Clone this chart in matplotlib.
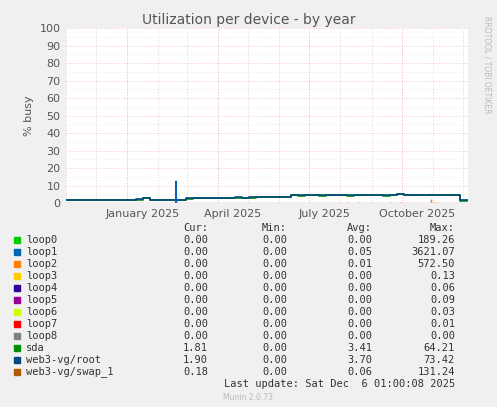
import matplotlib
matplotlib.use("Agg")
import matplotlib.pyplot as plt
import numpy as np

names = ["loop0","loop1","loop2","loop3","loop4","loop5","loop6","loop7","loop8","sda","web3-vg/root","web3-vg/swap_1"]
colors = ["#00cc00","#0066b3","#ff8000","#ffcc00","#330099","#990099","#ccff00","#ff0000","#808080","#008f00","#00487d","#b35a00"]
cur = ["0.00","0.00","0.00","0.00","0.00","0.00","0.00","0.00","0.00","1.81","1.90","0.18"]
mins = ["0.00"]*12
avg = ["0.00","0.05","0.01","0.00","0.00","0.00","0.00","0.00","0.00","3.41","3.70","0.06"]
mx = ["189.26","3621.07","572.50","0.13","0.06","0.09","0.03","0.01","0.00","64.21","73.42","131.24"]

# weekly samples (days since 2024-11-01)
root = [1.8,1.9,1.7,1.8,1.9,1.8,1.9,1.8,2.0,2.0,2.1,3.0,2.0,2.0,1.9,2.0,2.0,2.7,2.8,3.0,2.9,3.1,3.0,2.9,3.2,2.9,3.3,3.4,3.5,3.4,3.6,3.5,4.6,4.4,4.5,4.5,4.4,4.5,4.6,4.5,4.4,4.5,4.6,4.5,4.5,4.4,4.6,5.4,4.7,4.6,4.8,4.7,4.6,4.5,4.6,4.7,1.5,1.9]
sda  = [1.6,1.8,1.5,1.6,1.7,1.6,1.8,1.6,1.8,1.9,2.0,2.8,1.8,1.8,1.7,1.8,1.9,2.5,2.6,2.9,2.8,2.9,2.9,2.7,3.0,2.8,3.1,3.2,3.3,3.2,3.4,3.3,4.4,4.2,4.3,4.3,4.2,4.3,4.4,4.3,4.2,4.3,4.4,4.3,4.3,4.2,4.4,5.1,4.5,4.4,4.6,4.5,4.4,4.3,4.4,4.5,1.3,1.8]
loop1_spike_day = [109, 109.5, 110]
loop1_spike_val = [0, 12.5, 0]
swap_days = [281, 292, 323, 332, 363, 366]
swap_vals = [0.6, 0.5, 0.7, 0.5, 2.2, 0.6]

days = np.arange(len(root)) * 7
W, H = 497, 407
fig = plt.figure(figsize=(W/100, H/100), dpi=100, facecolor="#f0f0f0")
ax = fig.add_axes([66/W, 1-203/H, 402/W, 175/H], facecolor="white")
ax.step(days, sda, where="post", color=colors[9], lw=1.2)
ax.step(days, root, where="post", color=colors[10], lw=1.2)
ax.plot(loop1_spike_day, loop1_spike_val, color=colors[1], lw=1)
ax.vlines(swap_days, 0, swap_vals, color=colors[2], lw=1)
ax.set_xlim(0, 400)
ax.set_ylim(0, 100)
ax.set_yticks(range(0, 101, 10))
for y in range(0, 101, 5):
    ax.axhline(y, color="#f4b6b6" if y % 10 == 0 else "#e8e8e8", lw=0.6, ls=(0, (1, 2)), zorder=0)
month_starts = [0,30,61,92,120,151,181,212,242,273,304,334,365,395]
for d in month_starts:
    ax.axvline(d, color="#e0c8c8", lw=0.6, ls=(0, (1, 2)), zorder=0)
for d in [61,151,242,334]:
    ax.axvline(d, color="#f4b6b6", lw=0.6, ls=(0, (1, 2)), zorder=0)
ax.set_xticks([76,166,257,349])
ax.set_xticklabels(["January 2025","April 2025","July 2025","October 2025"])
ax.tick_params(length=0, labelsize=8, colors="#555555", pad=4)
for s in ax.spines.values():
    s.set_visible(False)
ax.axhline(0, color="#c8a0a0", lw=1)
ax.set_ylabel("% busy", fontsize=8, color="#555555")
fig.text(0.5, 1-20/H, "Utilization per device - by year", ha="center", va="center", fontsize=10, color="#555555")
fig.text(487/W, 1-65/H, "RRDTOOL / TOBI OETIKER", rotation=270, ha="center", va="center", fontsize=5.5, color="#bbbbbb")

fs = 7.5
mono = "DejaVu Sans Mono"
def px(x, y): return x/W, 1-y/H
for x, t in [(208,"Cur:"),(287,"Min:"),(372,"Avg:"),(455,"Max:")]:
    fig.text(*px(x, 228), t, ha="right", va="center", fontsize=fs, family=mono, color="#333333")
for i, n in enumerate(names):
    y = 240 + i*12
    fig.patches.append(plt.Rectangle(px(14, y+3), 6/W, 6/H, color=colors[i], transform=fig.transFigure))
    fig.text(*px(26, y), n, ha="left", va="center", fontsize=fs, family=mono, color="#333333")
    for x, v in [(208,cur[i]),(287,mins[i]),(372,avg[i]),(455,mx[i])]:
        fig.text(*px(x, y), v, ha="right", va="center", fontsize=fs, family=mono, color="#333333")
fig.text(*px(455, 384), "Last update: Sat Dec  6 01:00:08 2025", ha="right", va="center", fontsize=fs, family=mono, color="#333333")
fig.text(*px(248, 398), "Munin 2.0.73", ha="center", va="center", fontsize=5.5, color="#bbbbbb")
fig.savefig("out.png", dpi=100, facecolor=fig.get_facecolor())
